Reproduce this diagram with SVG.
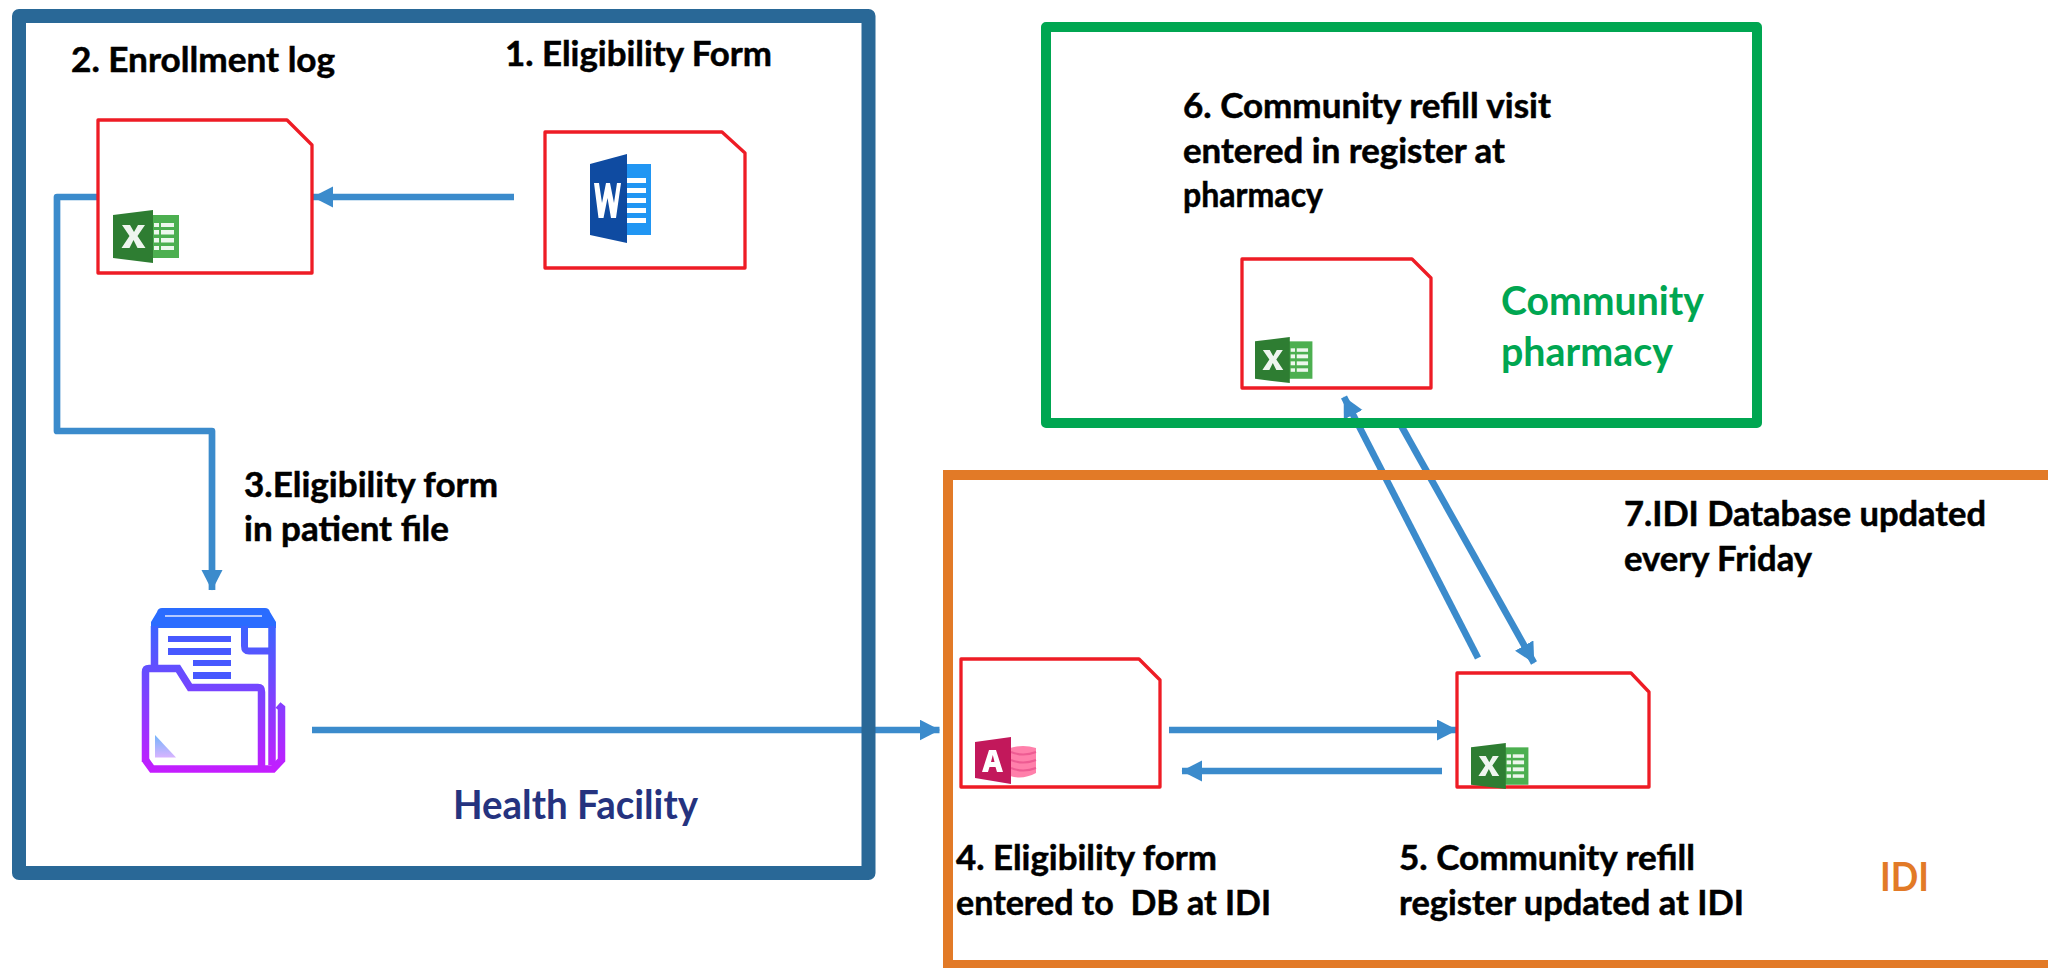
<svg xmlns="http://www.w3.org/2000/svg" width="2048" height="968" viewBox="0 0 2048 968">
<style>
.t{font-family:Lato,"Open Sans",sans-serif;font-weight:700;font-size:33.500px;fill:#000;stroke:#000;stroke-width:.5px}
.big{font-size:40px;stroke:none}
.doc{fill:none;stroke:#ee1c25;stroke-width:3.300;stroke-linejoin:round}
.c{fill:none;stroke:#3b8bcc;stroke-width:6.700;stroke-linejoin:round}
.box{fill:none;stroke-width:14;stroke-linejoin:round}
.ic{fill:none;stroke:url(#fg)}
</style>
<defs>
<marker id="a" markerUnits="userSpaceOnUse" markerWidth="22" markerHeight="22" refX="20" refY="10.500" orient="auto"><path d="M0,0L20.500,10.500L0,21Z" fill="#3b8bcc"/></marker>
<g id="xl">
<rect x="39" y="5" width="27" height="43" fill="#4caf50"/>
<path d="M0,5L40,0V53L0,48Z" fill="#2e7d32"/>
<g fill="#fff" opacity=".9"><rect x="41" y="13" width="5" height="4"/><rect x="48" y="13" width="13" height="4"/><rect x="41" y="20" width="5" height="4.500"/><rect x="48" y="20" width="13" height="4.500"/><rect x="41" y="28" width="5" height="4.500"/><rect x="48" y="28" width="13" height="4.500"/><rect x="41" y="36" width="5" height="4"/><rect x="48" y="36" width="13" height="4"/></g>
<path d="M9,15h8l4,7l4,-7h7l-7.500,11l8,12h-8l-4,-8l-4,8h-8l8,-12z" fill="#fff" opacity=".92"/>
</g>
<linearGradient id="fg" gradientUnits="userSpaceOnUse" x1="0" y1="608" x2="0" y2="773"><stop offset="0" stop-color="#2a6cff"/><stop offset="1" stop-color="#c61cff"/></linearGradient>
<linearGradient id="tr" x1="0" y1="0" x2="0" y2="1"><stop offset="0" stop-color="#74b4fb"/><stop offset="1" stop-color="#d8b4ff"/></linearGradient>
</defs>
<g id="connectors">
<path class="c" d="M514,197H313" marker-end="url(#a)"/>
<path class="c" d="M98,197H57V431H212V590" marker-end="url(#a)"/>
<path class="c" d="M312,730H939.500" marker-end="url(#a)"/>
<path class="c" d="M1169,730H1457" marker-end="url(#a)"/>
<path class="c" d="M1442,771H1182" marker-end="url(#a)"/>
<path class="c" d="M1478,658L1344,397" marker-end="url(#a)"/>
<path class="c" d="M1398,420L1534,663" marker-end="url(#a)"/>
</g>
<g id="health-facility">
<rect class="box" x="19" y="16" width="849.500" height="857" stroke="#296897"/>
<text class="t big" x="453" y="819" textLength="245" lengthAdjust="spacingAndGlyphs" style="fill:#25337f">Health Facility</text>
</g>
<g id="community-pharmacy">
<rect class="box" x="1046" y="27" width="711" height="396" stroke="#00a651" style="stroke-width:10"/>
<text class="t big" x="1501" y="315" textLength="203" lengthAdjust="spacingAndGlyphs" style="fill:#00a651">Community</text>
<text class="t big" x="1501" y="366" textLength="172" lengthAdjust="spacingAndGlyphs" style="fill:#00a651">pharmacy</text>
</g>
<g id="idi">
<path d="M2060,475H948V965H2060" fill="none" stroke="#e27a27" stroke-width="10"/>
<text class="t big" x="1880" y="891" textLength="49" lengthAdjust="spacingAndGlyphs" style="fill:#e27a27">IDI</text>
</g>
<g id="n1">
<path class="doc" d="M545,132H722L745,153V268H545Z"/>
<rect x="625" y="164" width="26" height="71" fill="#2196f3"/>
<path d="M590,164L627,154V243L590,235Z" fill="#0f4ba1"/>
<g fill="#fff"><rect x="627" y="178" width="19" height="5"/><rect x="627" y="188" width="19" height="5"/><rect x="627" y="198" width="19" height="5"/><rect x="627" y="208" width="19" height="5"/><rect x="627" y="218" width="19" height="5"/></g>
<path d="M594,183h5l3,20l4,-20h4l4,20l3,-20h4l-5,35h-5l-3.500,-20l-4,20h-5z" fill="#fff"/>
<text class="t" x="505" y="66" textLength="267" lengthAdjust="spacingAndGlyphs">1. Eligibility Form</text>
</g>
<g id="n2">
<path class="doc" d="M98,120H287L312,145V273H98Z"/>
<use href="#xl" x="113" y="210"/>
<text class="t" x="71" y="72" textLength="264" lengthAdjust="spacingAndGlyphs">2. Enrollment log</text>
</g>
<g id="n3">
<path d="M151,628V622L157,612Q158,608 162,608H265Q269,608 270,612L276,622V628Z" fill="#2a6cff"/>
<rect x="165" y="615" width="97" height="2" fill="#b4c8ff"/>
<path class="ic" stroke-width="7.500" d="M154.500,626V666M272,626V765"/>
<path class="ic" stroke-width="7" d="M244.500,626V646Q244.500,651 249,651H270"/>
<g fill="#4758ff"><rect x="168" y="636" width="63" height="6"/><rect x="168" y="648" width="63" height="7"/><rect x="193" y="660" width="38" height="6"/><rect x="193" y="672" width="38" height="7"/></g>
<path class="ic" stroke-width="7.500" d="M145.500,762V672Q145.500,668.500 149,668.500H178L190,687.500H258Q261.500,687.500 261.500,692V768"/>
<path class="ic" stroke-width="7.500" d="M145.500,760L152,769H273L281.500,760V708L278,705"/>
<path d="M155,735L176,757.500H155Z" fill="url(#tr)"/>
<text class="t" x="244" y="497" textLength="254" lengthAdjust="spacingAndGlyphs">3.Eligibility form</text>
<text class="t" x="244" y="541" textLength="205" lengthAdjust="spacingAndGlyphs">in patient file</text>
</g>
<g id="n4">
<path class="doc" d="M961,659H1139L1160,680V787H961Z"/>
<path d="M1010,748Q1023,744 1036,748V773Q1023,780 1010,776Z" fill="#ff80ab"/>
<g fill="none" stroke="#ee5c93" stroke-width="2"><path d="M1011,752Q1023,757 1036,752"/><path d="M1011,760Q1023,765 1036,760"/><path d="M1011,768Q1023,773 1036,768"/></g>
<path d="M975,742L1011,737V784L975,778Z" fill="#c2185b"/>
<path d="M982,772L989,750H996L1003,772H997L995.500,767H989.500L988,772ZM991,762H994.500L992.800,755Z" fill="#fff"/>
<text class="t" x="956" y="870" textLength="261" lengthAdjust="spacingAndGlyphs">4. Eligibility form</text>
<text class="t" x="956" y="915" textLength="315" lengthAdjust="spacingAndGlyphs" xml:space="preserve">entered to  DB at IDI</text>
</g>
<g id="n5">
<path class="doc" d="M1457,673H1631L1649,692V787H1457Z"/>
<use href="#xl" x="1471" y="743" transform="translate(1471,743) scale(.87) translate(-1471,-743)"/>
<text class="t" x="1399" y="870" textLength="296" lengthAdjust="spacingAndGlyphs">5. Community refill</text>
<text class="t" x="1399" y="915" textLength="345" lengthAdjust="spacingAndGlyphs">register updated at IDI</text>
</g>
<g id="n6">
<path class="doc" d="M1242,259H1412L1431,278V388H1242Z"/>
<use href="#xl" x="1255" y="337" transform="translate(1255,337) scale(.87) translate(-1255,-337)"/>
<text class="t" x="1183" y="118" textLength="368" lengthAdjust="spacingAndGlyphs">6. Community refill visit</text>
<text class="t" x="1183" y="163" textLength="322" lengthAdjust="spacingAndGlyphs">entered in register at</text>
<text class="t" x="1183" y="207" textLength="140" lengthAdjust="spacingAndGlyphs">pharmacy</text>
</g>
<g id="n7">
<text class="t" x="1624" y="526" textLength="362" lengthAdjust="spacingAndGlyphs">7.IDI Database updated</text>
<text class="t" x="1624" y="571" textLength="188" lengthAdjust="spacingAndGlyphs">every Friday</text>
</g>
</svg>
